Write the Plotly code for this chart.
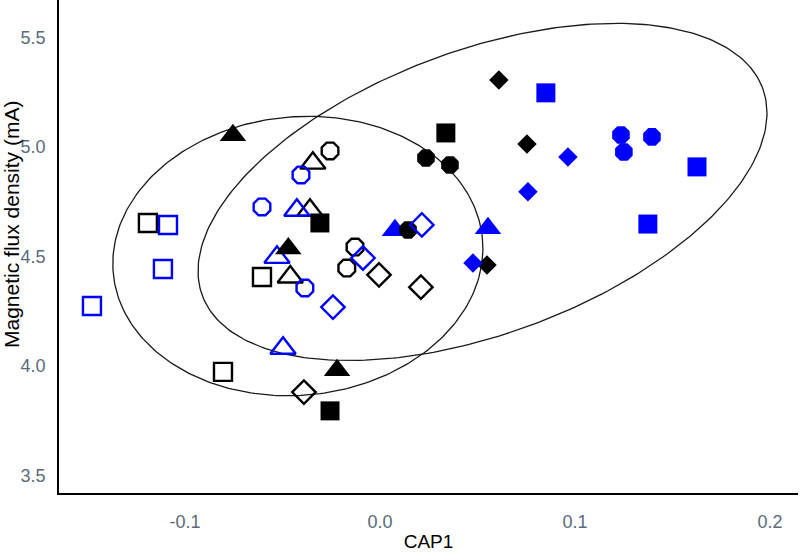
import numpy as np
import plotly.graph_objects as go

# ---- data ----
cap1 = [
    -0.119, -0.0805, -0.0605,            # open black squares
    -0.1087, -0.1113, -0.1477,           # open blue squares
    -0.0308, -0.0256, 0.0338,            # filled black squares
    0.0851, 0.1626, 0.1374,              # filled blue squares
    -0.0344, -0.0359, -0.046,            # open black triangles
    -0.0426, -0.0528, -0.0497,           # open blue triangles
    -0.0754, -0.047, -0.022,             # filled black triangles
    0.0077, 0.0554,                      # filled blue triangles
    -0.0256, -0.017, -0.0128,            # open black octagons
    -0.0405, -0.0605, -0.0385,           # open blue octagons
    0.0236, 0.0359, 0.0144,              # filled black octagons
    0.1236, 0.1251, 0.1395,              # filled blue octagons
    -0.039, -0.0005, 0.021,              # open black diamonds
    -0.0241, -0.0087, 0.0215,            # open blue diamonds
    0.0549, 0.061, 0.0754,               # filled black diamonds
    0.0477, 0.0964, 0.0759,              # filled blue diamonds
]
flux = [
    4.653, 3.973, 4.406,
    4.644, 4.443, 4.274,
    4.653, 3.795, 5.064,
    5.247, 4.909, 4.648,
    4.926, 4.711, 4.406,
    4.711, 4.496, 4.081,
    5.054, 4.536, 3.981,
    4.620, 4.629,
    4.982, 4.447, 4.543,
    4.872, 4.726, 4.356,
    4.950, 4.918, 4.621,
    5.055, 4.977, 5.046,
    3.881, 4.416, 4.360,
    4.269, 4.493, 4.644,
    4.461, 5.306, 5.014,
    4.470, 4.954, 4.795,
]
shape = (["square"] * 12 + ["triangle-up"] * 11 + ["octagon"] * 12 + ["diamond"] * 12)
group_color = (["black"] * 3 + ["blue"] * 3 + ["black"] * 3 + ["blue"] * 3 +
               ["black"] * 3 + ["blue"] * 3 + ["black"] * 3 + ["blue"] * 2 +
               ["black"] * 3 + ["blue"] * 3 + ["black"] * 3 + ["blue"] * 3 +
               ["black"] * 3 + ["blue"] * 3 + ["black"] * 3 + ["blue"] * 3)
filled = ([False] * 6 + [True] * 6 + [False] * 6 + [True] * 5 +
          [False] * 6 + [True] * 6 + [False] * 6 + [True] * 6)

# ellipse outlines: centre and conjugate semi-axes (data units)
ell_cx = [-0.0421, 0.0526]
ell_cy = [4.502, 4.7945]
ell_ax = [0.0949, 0.1459]
ell_ay = [0.035, 0.3607]
ell_by = [0.637, 0.680]

x_ticks = [-0.1, 0.0, 0.1, 0.2]
x_labels = ["-0.1", "0.0", "0.1", "0.2"]
y_ticks = [3.5, 4.0, 4.5, 5.0, 5.5]
y_labels = ["3.5", "4.0", "4.5", "5.0", "5.5"]

colors = {"black": "#000000", "blue": "#0000FF"}
size_filled = {"square": 19, "triangle-up": 23, "octagon": 19, "diamond": 15}
size_open = {"square": 18, "triangle-up": 22, "octagon": 18, "diamond": 18}

fig = go.Figure()

t = np.linspace(0, 2 * np.pi, 300)
for cx, cy, ax, ay, by in zip(ell_cx, ell_cy, ell_ax, ell_ay, ell_by):
    fig.add_trace(go.Scatter(
        x=cx + ax * np.cos(t), y=cy + ay * np.cos(t) + by * np.sin(t),
        mode="lines", line=dict(color="#1a1a1a", width=1.3),
        hoverinfo="skip", showlegend=False))

for xi, yi, sh, c, f in zip(cap1, flux, shape, group_color, filled):
    sym = sh if f else sh + "-open"
    sz = size_filled[sh] if f else size_open[sh]
    fig.add_trace(go.Scatter(
        x=[xi], y=[yi], mode="markers",
        marker=dict(symbol=sym, size=sz, color=colors[c],
                    line=dict(width=0 if f else 2.4, color=colors[c])),
        showlegend=False))

tickcol = "#5b6b7b"
fig.update_layout(
    width=800, height=557,
    margin=dict(l=59, r=2, t=0, b=64),
    plot_bgcolor="white", paper_bgcolor="white",
    font=dict(family="Liberation Sans, Arial, sans-serif"),
    showlegend=False,
    xaxis=dict(range=[-0.1646, 0.2144], tickvals=x_ticks, ticktext=x_labels,
               showline=True, linecolor="black", linewidth=1.6, mirror=False,
               showgrid=False, zeroline=False, ticks="",
               ticklabelstandoff=12,
               tickfont=dict(size=18, color=tickcol),
               title=dict(text="CAP1", font=dict(size=19, color="black"), standoff=3)),
    yaxis=dict(range=[3.42, 5.671], tickvals=y_ticks, ticktext=y_labels,
               showline=True, linecolor="black", linewidth=1.6,
               showgrid=False, zeroline=False, ticks="",
               ticklabelstandoff=8,
               tickfont=dict(size=18, color=tickcol)),
    annotations=[dict(text="Magnetic flux density (mA)", textangle=-90,
                      xref="paper", yref="paper", x=-(59 - 12) / 739, y=(493 - 225) / 493,
                      xanchor="center", yanchor="middle", showarrow=False,
                      font=dict(size=21, color="black"))],
)

fig.write_html("out.html")
